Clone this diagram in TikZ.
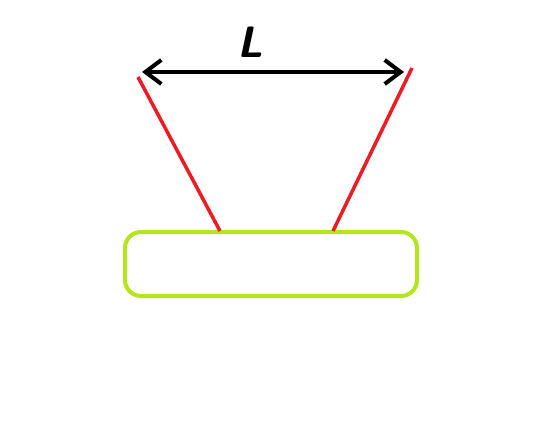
\documentclass[tikz,border=0pt]{standalone}
\usepackage{tikz}
\usetikzlibrary{positioning}
\usetikzlibrary{arrows.meta}
\definecolor{limegreen}{RGB}{181,230,29}
\definecolor{paintred}{RGB}{237,28,36}
\tikzset{x=1pt, y=-1pt,
	plate/.style={
		draw=limegreen,
		line width=4pt,
		rounded corners=16pt,
		minimum width=292pt,
		minimum height=64pt,
		inner sep=0pt},
	ray/.style={
		draw=paintred,
		line width=3.5pt},
	span/.style={
		draw,
		line width=4pt,
		{Straight Barb[length=16pt,width=24pt,line width=4pt]}-{Straight Barb[length=16pt,width=24pt,line width=4pt]}}
}

\begin{document}
\begin{tikzpicture}
	\useasboundingbox (0,0) rectangle (533,433);
	\node[plate] (P) at (271,264) {};
	\coordinate (PL) at (220,231);
	\coordinate (PR) at (333,231);
	\coordinate (TL) at (138,77);
	\coordinate (TR) at (412,68);
	\coordinate (AL) at (142,72);
	\coordinate (AR) at (404,72);
	\draw[ray] (PL) -- (TL);
	\draw[ray] (PR) -- (TR);
	\draw[span] (AL) -- (AR);
	\node (L) at (250,42) {\fontsize{44}{44}\selectfont\sffamily\bfseries\slshape L};
\end{tikzpicture}
\end{document}
